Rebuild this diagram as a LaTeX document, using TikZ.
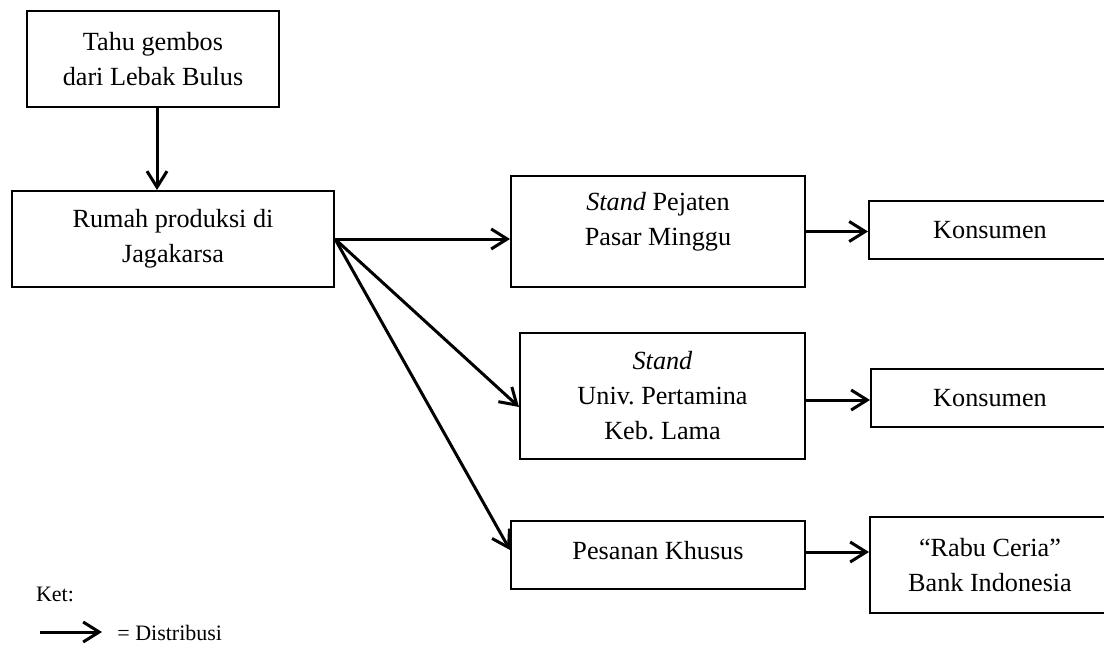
\documentclass[tikz,border=0pt]{standalone}
\usepackage{fontspec}
\setmainfont{Liberation Serif}
\usetikzlibrary{arrows.meta}
\frenchspacing
\begin{document}
\begin{tikzpicture}[x=0.5pt,y=-0.5pt,
  box/.style={draw, line width=1pt, inner sep=0pt, align=center,
    font=\fontsize{13.1}{17.5}\selectfont},
  txt/.style={inner sep=0pt, align=center, font=\fontsize{13.1}{17.5}\selectfont},
  arr/.style={line width=1.5pt, -{Straight Barb[length=8pt,width=10pt,line width=1.5pt]}},
  small/.style={inner sep=0pt, font=\fontsize{11}{13}\selectfont}]
\clip (0,0) rectangle (1104,648);
\fill[white] (0,0) rectangle (1104,648);
% boxes
\node[box, minimum width=126pt, minimum height=48pt] (b1) at (153,59) {Tahu gembos\\dari Lebak Bulus};
\node[box, minimum width=161pt, minimum height=48pt] (b2) at (173,239) {Rumah produksi di\\Jagakarsa};
\node[box, minimum width=147pt, minimum height=55.5pt] (b3) at (658,231.5) {};
\node[txt] (t3) at (658,221.5) {\textit{Stand} Pejaten\\Pasar Minggu};
\node[box, minimum width=121pt, minimum height=29pt] (k1) at (990,230) {Konsumen};
\node[box, minimum width=142.5pt, minimum height=63pt] (b5) at (662.5,396) {\textit{Stand}\\Univ. Pertamina\\Keb. Lama};
\node[box, minimum width=119pt, minimum height=29pt] (k2) at (990,398) {Konsumen};
\node[box, minimum width=147pt, minimum height=34pt] (b7) at (658,555) {};
\node[txt] (t7) at (658,551) {Pesanan Khusus};
\node[box, minimum width=120pt, minimum height=48pt] (rb) at (990,565) {``Rabu Ceria''\\Bank Indonesia};
% connectors
\draw[arr] ([xshift=2pt]b1.south) -- ([xshift=2pt]b1.south |- b2.north);
\draw[arr] (b2.east) -- (b2.east -| b3.west);
\draw[arr] (b2.east) -- ([yshift=-5.5pt]b5.west);
\draw[arr] (b2.east) -- ([yshift=2.5pt]b7.west);
\draw[arr] (b3.east) -- (b3.east -| k1.west);
\draw[arr] ([yshift=-2pt]b5.east) -- ([yshift=-2pt]b5.east -| k2.west);
\draw[arr] ([yshift=1.5pt]b7.east) -- ([yshift=1.5pt]b7.east -| rb.west);
% legend
\node[small] (ket) at (55,594) {Ket:};
\coordinate (l1) at (40,632);
\coordinate (l2) at (102,632);
\draw[arr] (l1) -- (l2);
\node[small, anchor=west] (dist) at (117,633) {= Distribusi};
\end{tikzpicture}
\end{document}
